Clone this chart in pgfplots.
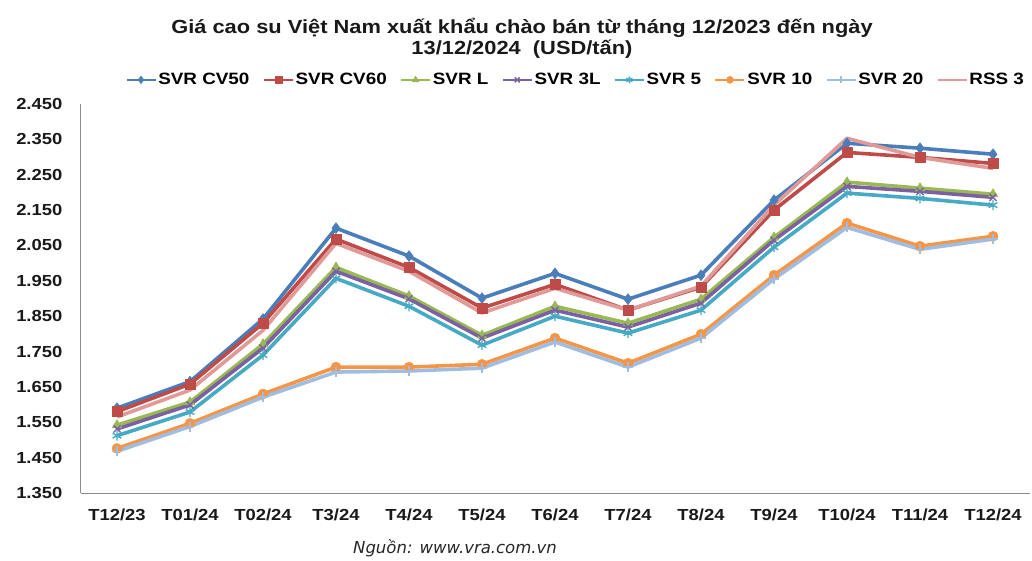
\documentclass[border=0pt]{standalone}
\usepackage{pgfplots}
\pgfplotsset{compat=1.18}
\usepackage{pgfplotstable}
\usepackage{fontspec}
\setmainfont{Liberation Sans}[FakeStretch=1.15]
\newfontfamily\srcfont{DejaVu Sans}
\definecolor{cA}{HTML}{4A7EBB}
\definecolor{cB}{HTML}{BE4B48}
\definecolor{cC}{HTML}{98B954}
\definecolor{cD}{HTML}{7D60A0}
\definecolor{cE}{HTML}{46AAC5}
\definecolor{cF}{HTML}{F59647}
\definecolor{cG}{HTML}{A0BCE0}
\definecolor{cH}{HTML}{E09A98}
\pgfplotstableread{
x cv50 cv60 l l3 s5 s10 s20 rss3
0 1590 1580 1542 1531 1512 1476 1468 1565
1 1665 1658 1607 1599 1579 1547 1538 1641
2 1842 1830 1771 1760 1740 1630 1621 1810
3 2099 2068 1988 1977 1957 1706 1692 2056
4 2020 1988 1907 1899 1878 1706 1695 1977
5 1901 1873 1796 1788 1768 1714 1703 1859
6 1971 1940 1878 1867 1850 1788 1777 1929
7 1898 1867 1830 1819 1802 1717 1706 1867
8 1966 1932 1898 1887 1867 1799 1788 1935
9 2178 2150 2073 2065 2045 1966 1955 2164
10 2339 2313 2229 2217 2198 2113 2101 2353
11 2325 2299 2212 2203 2183 2048 2039 2299
12 2308 2282 2195 2186 2164 2076 2068 2268
}\data
\begin{document}
\begin{tikzpicture}
\useasboundingbox (0,0) rectangle (1032pt,561pt);
\begin{axis}[
  at={(80.5pt,68pt)}, anchor=south west,
  scale only axis, width=949pt, height=389pt,
  xmin=-0.5, xmax=12.5, ymin=1350, ymax=2450,
  axis x line*=bottom, axis y line*=left,
  axis line style={-, draw=black!45, line width=0.8pt},
  major tick length=0pt,
  xtick={0,...,12},
  xticklabels={T12/23,T01/24,T02/24,T3/24,T4/24,T5/24,T6/24,T7/24,T8/24,T9/24,T10/24,T11/24,T12/24},
  ytick={1350,1450,...,2450},
  yticklabels={1.350,1.450,1.550,1.650,1.750,1.850,1.950,2.050,2.150,2.250,2.350,2.450},
  yticklabel style={inner sep=0pt, xshift=-18pt, anchor=east, font=\fontsize{16}{18}\selectfont\bfseries, text=black!90},
  xticklabel style={inner sep=0pt, yshift=-16pt, anchor=north, font=\fontsize{16}{18}\selectfont\bfseries, text=black!90},
  legend columns=8,
  legend style={at={(44.5pt,1.062)}, anchor=west, draw=none, fill=none,
    font=\fontsize{16.4}{18}\selectfont\bfseries, inner sep=0pt,
    /tikz/every even column/.append style={column sep=11.5pt},
    nodes={inner xsep=1.5pt, inner ysep=1pt}},
  legend image code/.code={\draw[line width=2.6pt, mark repeat=2, mark phase=2, every mark/.append style={scale=0.7}] plot coordinates {(0pt,0pt) (14.5pt,0pt) (29pt,0pt)};},
  every axis plot/.append style={line width=3.6pt, line join=round},
]
\addplot[color=cA, mark=diamond*, mark size=5.5pt, mark options={line width=0.5pt}] table[x=x,y=cv50]{\data};
\addlegendentry{SVR CV50}
\addplot[color=cB, mark=square*, mark size=5pt, mark options={line width=0.5pt}] table[x=x,y=cv60]{\data};
\addlegendentry{SVR CV60}
\addplot[color=cC, mark=triangle*, mark size=5.5pt, mark options={line width=0.5pt}] table[x=x,y=l]{\data};
\addlegendentry{SVR L}
\addplot[color=cD, mark=x, mark size=5pt, mark options={line width=1.4pt}] table[x=x,y=l3]{\data};
\addlegendentry{SVR 3L}
\addplot[color=cE, mark=asterisk, mark size=5pt, mark options={line width=1.4pt}] table[x=x,y=s5]{\data};
\addlegendentry{SVR 5}
\addplot[color=cF, mark=*, mark size=5pt, mark options={line width=0.5pt}] table[x=x,y=s10]{\data};
\addlegendentry{SVR 10}
\addplot[color=cG, mark=+, mark size=5pt, mark options={line width=1.4pt}] table[x=x,y=s20]{\data};
\addlegendentry{SVR 20}
\addplot[color=cH, no marks] table[x=x,y=rss3]{\data};
\addlegendentry{RSS 3}
\end{axis}
\node[align=center, font=\fontsize{19}{21}\selectfont\bfseries, text=black!90] at (522pt,523pt) {Giá cao su Việt Nam xuất khẩu chào bán từ tháng 12/2023 đến ngày\\13/12/2024\ \ (USD/tấn)};
\node[font=\srcfont\itshape\fontsize{16.5}{18}\selectfont, text=black!85] at (455pt,13pt) {Nguồn: www.vra.com.vn};
\end{tikzpicture}
\end{document}
